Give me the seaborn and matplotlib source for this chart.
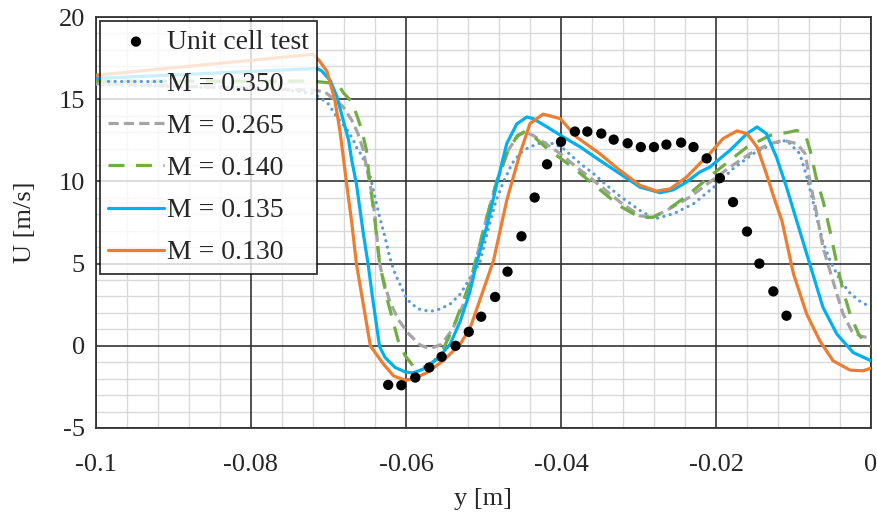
import matplotlib
matplotlib.use("Agg")
import matplotlib.pyplot as plt
from matplotlib.ticker import MultipleLocator
import seaborn as sns

# unit cell test measurements
test_y = [-0.0623, -0.0606, -0.0588, -0.0570, -0.0554, -0.0536, -0.0519, -0.0503, -0.0485, -0.0469,
          -0.0451, -0.0434, -0.0418, -0.0400, -0.0382, -0.0366, -0.0348, -0.0332, -0.0314, -0.0297,
          -0.0280, -0.0264, -0.0245, -0.0229, -0.0212, -0.0195, -0.0178, -0.0160, -0.0144, -0.0126,
          -0.0109]
test_u = [-2.38, -2.40, -1.93, -1.32, -0.67, 0.00, 0.85, 1.77, 2.97, 4.51,
          6.66, 9.02, 11.04, 12.41, 13.03, 13.03, 12.91, 12.54, 12.32, 12.09,
          12.09, 12.24, 12.36, 12.09, 11.40, 10.20, 8.74, 6.95, 5.00, 3.31,
          1.83]

# M = 0.350
m350_y = [-0.1, -0.0760, -0.0720, -0.0711, -0.0700, -0.0689, -0.0680, -0.0674, -0.0668, -0.0662,
          -0.0657, -0.0646, -0.0640, -0.0634, -0.0627, -0.0621, -0.0614, -0.0608, -0.0601, -0.0595,
          -0.0584, -0.0569, -0.0556, -0.0543, -0.0530, -0.0522, -0.0514, -0.0505, -0.0495, -0.0484,
          -0.0474, -0.0463, -0.0453, -0.0444, -0.0430, -0.0421, -0.0410, -0.0397, -0.0375, -0.0358,
          -0.0341, -0.0324, -0.0298, -0.0279, -0.0255, -0.0229, -0.0203, -0.0178, -0.0152, -0.0126,
          -0.0109, -0.0092, -0.0083, -0.0076, -0.0070, -0.0062, -0.0053, -0.0040, -0.0027, -0.0014,
          0.0]
m350_u = [15.9, 15.6, 15.35, 15.1, 14.7, 13.9, 13.4, 13.0, 12.5, 11.9,
          11.6, 10.26, 9.04, 7.82, 6.60, 5.38, 4.37, 3.76, 3.05, 2.64,
          2.24, 2.09, 2.24, 2.54, 3.15, 3.76, 4.4, 5.0, 6.9, 8.8,
          10.0, 11.1, 11.7, 12.0, 12.3, 12.35, 12.3, 12.0, 11.08, 10.47,
          9.76, 9.1, 8.23, 7.72, 8.03, 8.64, 9.65, 10.77, 11.69, 12.30,
          12.5, 11.69, 10.3, 9.0, 7.8, 6.3, 5.2, 4.0, 3.2, 2.7,
          2.34]

# M = 0.265
m265_y = [-0.1, -0.0720, -0.0705, -0.0694, -0.0681, -0.0670, -0.0662, -0.0655, -0.0651, -0.0647,
          -0.0644, -0.0640, -0.0637, -0.0634, -0.0629, -0.0621, -0.0610, -0.0597, -0.0582, -0.0569,
          -0.0554, -0.0540, -0.0527, -0.0518, -0.0511, -0.0497, -0.0483, -0.0468, -0.0456, -0.0447,
          -0.0436, -0.0423, -0.0401, -0.0380, -0.0350, -0.0324, -0.0298, -0.0281, -0.0264, -0.0234,
          -0.0208, -0.0182, -0.0156, -0.0130, -0.0113, -0.0096, -0.0085, -0.0079, -0.0070, -0.0062,
          -0.0053, -0.0044, -0.0036, -0.0025, -0.0014, 0.0]
m265_u = [15.95, 15.55, 15.45, 15.04, 14.53, 13.72, 12.91, 11.89, 10.87, 10.0,
          9.25, 7.82, 6.4, 5.0, 3.96, 2.7, 1.6, 0.75, 0.05, -0.18,
          0.10, 1.0, 2.4, 3.6, 5.0, 7.6, 10.0, 11.9, 12.75, 13.0,
          12.8, 12.4, 11.69, 10.87, 9.75, 8.75, 7.9, 7.85, 8.23, 9.04,
          9.96, 10.87, 11.69, 12.30, 12.5, 12.3, 11.69, 10.06, 8.03, 5.99,
          4.57, 3.15, 1.93, 0.91, 0.6, 0.45]

# M = 0.140
m140_y = [-0.1, -0.0720, -0.0700, -0.0688, -0.0681, -0.0671, -0.0664, -0.0657, -0.0651, -0.0647,
          -0.0644, -0.0640, -0.0637, -0.0634, -0.0629, -0.0625, -0.0618, -0.0610, -0.0601, -0.0591,
          -0.0580, -0.0565, -0.0552, -0.0540, -0.0527, -0.0518, -0.0511, -0.0497, -0.0483, -0.0468,
          -0.0456, -0.0448, -0.0437, -0.0418, -0.0397, -0.0380, -0.0350, -0.0324, -0.0298, -0.0281,
          -0.0264, -0.0238, -0.0208, -0.0182, -0.0160, -0.0130, -0.0105, -0.0096, -0.0085, -0.0078,
          -0.0070, -0.0062, -0.0053, -0.0044, -0.0036, -0.0027, -0.0016, -0.0006, 0.0]
m140_u = [16.1, 16.1, 16.0, 15.95, 15.4, 14.9, 14.1, 13.1, 11.9, 10.0,
          9.0, 7.6, 6.2, 5.0, 3.9, 2.95, 1.73, 0.30, -0.61, -1.22,
          -1.38, -1.0, -0.2, 1.0, 2.6, 3.8, 5.0, 7.6, 10.0, 11.9,
          12.8, 13.0, 12.8, 12.0, 11.28, 10.67, 9.5, 8.5, 7.8, 7.82,
          8.23, 9.1, 10.3, 11.28, 12.09, 12.8, 13.0, 13.1, 12.9, 11.8,
          10.06, 8.84, 7.01, 4.98, 3.35, 1.93, 0.71, 0.10, -0.06]

# M = 0.135
m135_y = [-0.1, -0.0715, -0.0709, -0.0698, -0.0689, -0.0681, -0.0674, -0.0670, -0.0664, -0.0655,
          -0.0649, -0.0642, -0.0634, -0.0627, -0.0614, -0.0601, -0.0591, -0.0578, -0.0560, -0.0543,
          -0.0530, -0.0518, -0.0509, -0.0495, -0.0482, -0.0470, -0.0457, -0.0444, -0.0436, -0.0418,
          -0.0397, -0.0375, -0.0350, -0.0324, -0.0298, -0.0272, -0.0255, -0.0238, -0.0221, -0.0208,
          -0.0182, -0.0160, -0.0147, -0.0135, -0.0122, -0.0109, -0.0096, -0.0079, -0.0062, -0.0044,
          -0.0023, 0.0]
m135_u = [16.26, 16.87, 16.73, 16.16, 15.14, 13.72, 12.50, 11.28, 9.86, 6.81,
          5.0, 2.54, -0.06, -0.71, -1.32, -1.59, -1.65, -1.42, -0.81, 0.10,
          1.5, 3.2, 5.0, 7.4, 10.0, 12.3, 13.5, 13.92, 13.82, 13.31,
          12.70, 12.09, 11.28, 10.47, 9.65, 9.31, 9.49, 9.96, 10.57, 10.87,
          11.89, 12.91, 13.31, 12.91, 11.48, 9.65, 7.62, 4.98, 2.34, 0.71,
          -0.41, -0.91]

# M = 0.130
m130_y = [-0.1, -0.0720, -0.0712, -0.0702, -0.0692, -0.0685, -0.0677, -0.0670, -0.0664, -0.0655,
          -0.0646, -0.0629, -0.0616, -0.0601, -0.0588, -0.0573, -0.0552, -0.0530, -0.0517, -0.0505,
          -0.0487, -0.0470, -0.0453, -0.0440, -0.0423, -0.0401, -0.0380, -0.0350, -0.0324, -0.0298,
          -0.0277, -0.0259, -0.0238, -0.0221, -0.0208, -0.0191, -0.0173, -0.0160, -0.0147, -0.0135,
          -0.0124, -0.0115, -0.0100, -0.0083, -0.0066, -0.0049, -0.0027, -0.0010, 0.0]
m130_u = [16.46, 17.73, 17.35, 16.7, 15.0, 13.0, 10.0, 7.5, 5.0, 2.5,
          0.0, -1.12, -1.83, -2.10, -1.97, -1.63, -0.91, 0.10, 1.12, 2.74,
          5.2, 8.84, 11.69, 13.52, 14.09, 13.82, 12.70, 11.69, 10.67, 9.76,
          9.41, 9.55, 10.26, 11.08, 11.69, 12.60, 13.07, 12.91, 12.09, 10.47,
          8.84, 7.62, 4.37, 1.93, 0.30, -0.91, -1.48, -1.52, -1.36]

xtick_vals = [-0.1, -0.08, -0.06, -0.04, -0.02, 0.0]
xtick_labels = ["-0.1", "-0.08", "-0.06", "-0.04", "-0.02", "0"]
ytick_vals = [-5, 0, 5, 10, 15, 20]
ytick_labels = ["-5", "0", "5", "10", "15", "20"]

SERIES = [
    ("M = 0.350", m350_y, m350_u, "#5B9BD5", (0, (0.05, 2.0)), "round"),
    ("M = 0.265", m265_y, m265_u, "#A5A5A5", (0, (3.2, 1.6)), "butt"),
    ("M = 0.140", m140_y, m140_u, "#70AD47", (0, (5.0, 3.6)), "butt"),
    ("M = 0.135", m135_y, m135_u, "#00B0F0", "-", "butt"),
    ("M = 0.130", m130_y, m130_u, "#ED7D31", "-", "butt"),
]


def main():
    sns.set_style("white")
    plt.rcParams["font.family"] = ["Liberation Serif", "DejaVu Serif"]

    fig = plt.figure(figsize=(8.77, 5.17), dpi=100)
    ax = fig.add_axes([96 / 877, 1 - 428 / 517, 775 / 877, 411 / 517])

    sns.scatterplot(x=test_y, y=test_u, color="black", s=55, edgecolor="none",
                    label="Unit cell test", ax=ax, zorder=5)

    for label, ys, us, color, ls, cap in SERIES:
        sns.lineplot(x=ys, y=us, sort=False, color=color, linewidth=2.3,
                     linestyle=ls, dash_capstyle=cap, label=label, ax=ax, zorder=3)

    ax.set_xlim(-0.1, 0.0)
    ax.set_ylim(-5, 20)
    ax.set_xticks(xtick_vals)
    ax.set_xticklabels(xtick_labels)
    ax.set_yticks(ytick_vals)
    ax.set_yticklabels(ytick_labels)

    # light minor grid under the dark major grid
    ax.xaxis.set_minor_locator(MultipleLocator(0.004))
    ax.yaxis.set_minor_locator(MultipleLocator(1))
    ax.grid(which="minor", color="#D9D9D9", linewidth=1.0, linestyle="-")
    ax.set_axisbelow(True)
    for v in xtick_vals:
        ax.axvline(v, color="#333333", linewidth=1.2, zorder=1)
    for v in ytick_vals:
        ax.axhline(v, color="#333333", linewidth=1.2, zorder=1)

    ax.tick_params(which="both", length=0, labelsize=19)
    ax.tick_params(axis="x", pad=19)
    ax.tick_params(axis="y", pad=8)
    for spine in ax.spines.values():
        spine.set_color("#333333")
        spine.set_linewidth(1.3)

    ax.set_xlabel("y [m]", fontsize=19, labelpad=8)
    ax.set_ylabel("U [m/s]", fontsize=19, labelpad=16)

    leg = ax.legend(loc="upper left", bbox_to_anchor=(0.005, 0.99), borderaxespad=0,
                    fontsize=20, handlelength=2.0, handletextpad=0.1,
                    labelspacing=0.6, borderpad=0.3, fancybox=False,
                    framealpha=0.8, edgecolor="black")
    leg.get_frame().set_linewidth(1.3)
    leg.set_zorder(6)

    fig.savefig("out.png", dpi=100)
    plt.close(fig)


if __name__ == "__main__":
    main()
